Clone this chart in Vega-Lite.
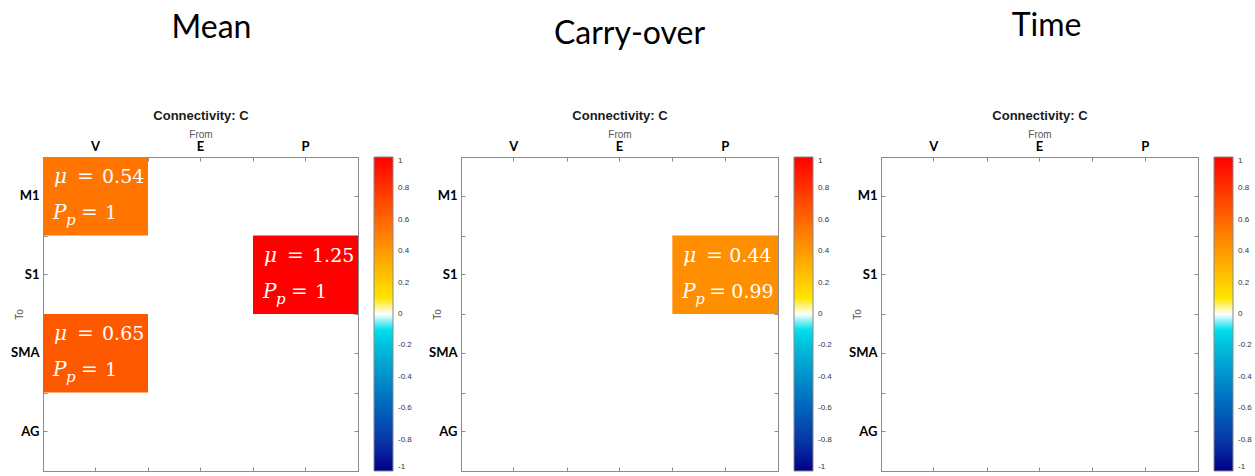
{
  "$schema": "https://vega.github.io/schema/vega-lite/v6.json",
  "background": "white",
  "padding": {"left": 10, "top": 9, "right": 2, "bottom": 2},
  "datasets": {
    "mean": [
      {"from": "V", "to": "M1", "mu": 0.54, "pp": 1},
      {"from": "P", "to": "S1", "mu": 1.25, "pp": 1},
      {"from": "V", "to": "SMA", "mu": 0.65, "pp": 1}
    ],
    "carry": [
      {"from": "P", "to": "S1", "mu": 0.44, "pp": 0.99}
    ],
    "time": []
  },
  "bounds": "flush",
  "spacing": 103,
  "resolve": {"scale": {"color": "independent"}, "legend": {"color": "independent"}},
  "config": {
    "view": {"stroke": "#8c8c8c", "strokeWidth": 1},
    "title": {"font": "Lato", "fontSize": 32, "fontWeight": "normal", "color": "#000000", "anchor": "middle"},
    "axis": {
      "domain": false, "grid": false,
      "labelFont": "Lato", "labelFontWeight": "bold", "labelFontSize": 13, "labelColor": "#000000",
      "titleFont": "Liberation Sans", "titleFontSize": 10, "titleFontWeight": "normal", "titleColor": "#555555",
      "tickColor": "#8c8c8c", "tickSize": -4, "tickWidth": 1
    },
    "text": {"font": "DejaVu Serif"}
  },
  "hconcat": [
    {
      "width": 315, "height": 314,
      "title": {"text": "Mean", "offset": 39, "dx": 11, "frame": "group", "baseline": "alphabetic"},
      "data": {"name": "mean"},
      "layer": [
        {"mark": {"type": "rect"},
         "encoding": {
           "x": {"field": "from", "type": "nominal", "scale": {"domain": ["V", "E", "P"], "paddingInner": 0, "paddingOuter": 0},
                 "axis": {"orient": "top", "title": "From", "ticks": false, "labelPadding": 4, "labelAngle": 0, "titleY": -23, "titleBaseline": "middle"}},
           "y": {"field": "to", "type": "nominal", "scale": {"domain": ["M1", "S1", "SMA", "AG"], "paddingInner": 0, "paddingOuter": 0},
                 "axis": {"orient": "left", "title": "To", "ticks": false, "labelPadding": 4, "titleX": -24, "titleBaseline": "middle"}},
           "color": {"field": "mu", "type": "quantitative",
                     "scale": {"domain": [-1, -0.8, -0.6, -0.4, -0.2, -0.0001, 0, 0.0001, 1], "range": ["#000088", "#0838a8", "#0064bc", "#0090cc", "#00c0dc", "#00ffff", "#ffffff", "#ffff00", "#ff0000"], "interpolate": "rgb", "clamp": true},
                     "legend": {"title": null, "orient": "right", "offset": 15, "direction": "vertical", "gradientLength": 314, "gradientThickness": 19, "gradientStrokeColor": "#888888", "gradientStrokeWidth": 1, "values": [1, 0.8, 0.6, 0.4, 0.2, 0, -0.2, -0.4, -0.6, -0.8, -1], "labelExpr": "datum.value", "labelFont": "Liberation Sans", "labelFontSize": 8, "labelColor": "#333333", "labelOffset": 5}}
         }},
        {"mark": {"type": "text", "text": "μ", "align": "left", "baseline": "middle", "dx": 11, "dy": -19, "font": "DejaVu Serif", "fontStyle": "italic", "fontSize": 20, "color": "white"},
         "encoding": {
           "x": {"field": "from", "type": "nominal", "bandPosition": 0, "axis": {"orient": "top", "title": "Connectivity: C", "labels": false, "titleY": -42, "titleBaseline": "middle", "titleFont": "Liberation Sans", "titleFontSize": 13, "titleFontWeight": "bold", "titleColor": "#1a1a1a"}},
           "y": {"field": "to", "type": "nominal", "axis": {"orient": "left", "title": null, "labels": false}}
         }},
        {"mark": {"type": "text", "align": "left", "baseline": "middle", "dx": 59, "dy": -19, "font": "DejaVu Serif", "fontSize": 19, "color": "white"},
         "encoding": {
           "x": {"field": "from", "type": "nominal", "bandPosition": 0, "axis": {"orient": "top", "title": null, "labels": false, "tickBand": "extent"}},
           "y": {"field": "to", "type": "nominal", "axis": {"orient": "left", "title": null, "labels": false, "tickBand": "extent"}},
           "text": {"field": "mu", "type": "quantitative", "format": ".2f"}
         }},
        {"mark": {"type": "text", "text": "P", "align": "left", "baseline": "middle", "dx": 10, "dy": 17, "font": "DejaVu Serif", "fontStyle": "italic", "fontSize": 20, "color": "white"},
         "encoding": {
           "x": {"field": "from", "type": "nominal", "bandPosition": 0, "axis": {"orient": "bottom", "title": null, "labels": false}},
           "y": {"field": "to", "type": "nominal", "axis": {"orient": "right", "title": null, "labels": false}}
         }},
        {"mark": {"type": "text", "text": "p", "align": "left", "baseline": "middle", "dx": 23, "dy": 24, "font": "DejaVu Serif", "fontStyle": "italic", "fontSize": 15, "color": "white"},
         "encoding": {
           "x": {"field": "from", "type": "nominal", "bandPosition": 0, "axis": {"orient": "bottom", "title": null, "labels": false, "tickBand": "extent"}},
           "y": {"field": "to", "type": "nominal", "axis": {"orient": "right", "title": null, "labels": false, "tickBand": "extent"}}
         }},
        {"mark": {"type": "text", "text": "=", "align": "left", "baseline": "middle", "dx": 34, "dy": -19, "font": "DejaVu Serif", "fontSize": 20, "color": "white"},
         "encoding": {
           "x": {"field": "from", "type": "nominal", "bandPosition": 0, "axis": null},
           "y": {"field": "to", "type": "nominal", "axis": null}
         }},
        {"mark": {"type": "text", "text": "=", "align": "left", "baseline": "middle", "dx": 38, "dy": 17, "font": "DejaVu Serif", "fontSize": 20, "color": "white"},
         "encoding": {
           "x": {"field": "from", "type": "nominal", "bandPosition": 0, "axis": null},
           "y": {"field": "to", "type": "nominal", "axis": null}
         }},
        {"mark": {"type": "text", "align": "left", "baseline": "middle", "dx": 62, "dy": 17, "font": "DejaVu Serif", "fontSize": 19, "color": "white"},
         "encoding": {
           "x": {"field": "from", "type": "nominal", "bandPosition": 0, "axis": null},
           "y": {"field": "to", "type": "nominal", "axis": null},
           "text": {"field": "pp", "type": "nominal"}
         }}
      ],
      "resolve": {"axis": {"x": "independent", "y": "independent"}}
    },
    {
      "width": 317, "height": 314,
      "title": {"text": "Carry-over", "offset": 33, "dx": 10, "frame": "group", "baseline": "alphabetic"},
      "data": {"name": "carry"},
      "layer": [
        {"mark": {"type": "rect"},
         "encoding": {
           "x": {"field": "from", "type": "nominal", "scale": {"domain": ["V", "E", "P"], "paddingInner": 0, "paddingOuter": 0},
                 "axis": {"orient": "top", "title": "From", "ticks": false, "labelPadding": 4, "labelAngle": 0, "titleY": -23, "titleBaseline": "middle"}},
           "y": {"field": "to", "type": "nominal", "scale": {"domain": ["M1", "S1", "SMA", "AG"], "paddingInner": 0, "paddingOuter": 0},
                 "axis": {"orient": "left", "title": "To", "ticks": false, "labelPadding": 4, "titleX": -24, "titleBaseline": "middle"}},
           "color": {"field": "mu", "type": "quantitative",
                     "scale": {"domain": [-1, -0.8, -0.6, -0.4, -0.2, -0.0001, 0, 0.0001, 1], "range": ["#000088", "#0838a8", "#0064bc", "#0090cc", "#00c0dc", "#00ffff", "#ffffff", "#ffff00", "#ff0000"], "interpolate": "rgb", "clamp": true},
                     "legend": {"title": null, "orient": "right", "offset": 15, "direction": "vertical", "gradientLength": 314, "gradientThickness": 19, "gradientStrokeColor": "#888888", "gradientStrokeWidth": 1, "values": [1, 0.8, 0.6, 0.4, 0.2, 0, -0.2, -0.4, -0.6, -0.8, -1], "labelExpr": "datum.value", "labelFont": "Liberation Sans", "labelFontSize": 8, "labelColor": "#333333", "labelOffset": 5}}
         }},
        {"mark": {"type": "text", "text": "μ", "align": "left", "baseline": "middle", "dx": 11, "dy": -19, "font": "DejaVu Serif", "fontStyle": "italic", "fontSize": 20, "color": "white"},
         "encoding": {
           "x": {"field": "from", "type": "nominal", "bandPosition": 0, "axis": {"orient": "top", "title": "Connectivity: C", "labels": false, "titleY": -42, "titleBaseline": "middle", "titleFont": "Liberation Sans", "titleFontSize": 13, "titleFontWeight": "bold", "titleColor": "#1a1a1a"}},
           "y": {"field": "to", "type": "nominal", "axis": {"orient": "left", "title": null, "labels": false}}
         }},
        {"mark": {"type": "text", "align": "left", "baseline": "middle", "dx": 57, "dy": -19, "font": "DejaVu Serif", "fontSize": 19, "color": "white"},
         "encoding": {
           "x": {"field": "from", "type": "nominal", "bandPosition": 0, "axis": {"orient": "top", "title": null, "labels": false, "tickBand": "extent"}},
           "y": {"field": "to", "type": "nominal", "axis": {"orient": "left", "title": null, "labels": false, "tickBand": "extent"}},
           "text": {"field": "mu", "type": "quantitative", "format": ".2f"}
         }},
        {"mark": {"type": "text", "text": "P", "align": "left", "baseline": "middle", "dx": 10, "dy": 17, "font": "DejaVu Serif", "fontStyle": "italic", "fontSize": 20, "color": "white"},
         "encoding": {
           "x": {"field": "from", "type": "nominal", "bandPosition": 0, "axis": {"orient": "bottom", "title": null, "labels": false}},
           "y": {"field": "to", "type": "nominal", "axis": {"orient": "right", "title": null, "labels": false}}
         }},
        {"mark": {"type": "text", "text": "p", "align": "left", "baseline": "middle", "dx": 23, "dy": 24, "font": "DejaVu Serif", "fontStyle": "italic", "fontSize": 15, "color": "white"},
         "encoding": {
           "x": {"field": "from", "type": "nominal", "bandPosition": 0, "axis": {"orient": "bottom", "title": null, "labels": false, "tickBand": "extent"}},
           "y": {"field": "to", "type": "nominal", "axis": {"orient": "right", "title": null, "labels": false, "tickBand": "extent"}}
         }},
        {"mark": {"type": "text", "text": "=", "align": "left", "baseline": "middle", "dx": 34, "dy": -19, "font": "DejaVu Serif", "fontSize": 20, "color": "white"},
         "encoding": {
           "x": {"field": "from", "type": "nominal", "bandPosition": 0, "axis": null},
           "y": {"field": "to", "type": "nominal", "axis": null}
         }},
        {"mark": {"type": "text", "text": "=", "align": "left", "baseline": "middle", "dx": 37, "dy": 17, "font": "DejaVu Serif", "fontSize": 20, "color": "white"},
         "encoding": {
           "x": {"field": "from", "type": "nominal", "bandPosition": 0, "axis": null},
           "y": {"field": "to", "type": "nominal", "axis": null}
         }},
        {"mark": {"type": "text", "align": "left", "baseline": "middle", "dx": 59, "dy": 17, "font": "DejaVu Serif", "fontSize": 19, "color": "white"},
         "encoding": {
           "x": {"field": "from", "type": "nominal", "bandPosition": 0, "axis": null},
           "y": {"field": "to", "type": "nominal", "axis": null},
           "text": {"field": "pp", "type": "nominal"}
         }}
      ],
      "resolve": {"axis": {"x": "independent", "y": "independent"}}
    },
    {
      "width": 317, "height": 314,
      "title": {"text": "Time", "offset": 41, "dx": 7, "frame": "group", "baseline": "alphabetic"},
      "data": {"name": "time"},
      "layer": [
        {"mark": {"type": "rect"},
         "encoding": {
           "x": {"field": "from", "type": "nominal", "scale": {"domain": ["V", "E", "P"], "paddingInner": 0, "paddingOuter": 0},
                 "axis": {"orient": "top", "title": "From", "ticks": false, "labelPadding": 4, "labelAngle": 0, "titleY": -23, "titleBaseline": "middle"}},
           "y": {"field": "to", "type": "nominal", "scale": {"domain": ["M1", "S1", "SMA", "AG"], "paddingInner": 0, "paddingOuter": 0},
                 "axis": {"orient": "left", "title": "To", "ticks": false, "labelPadding": 4, "titleX": -24, "titleBaseline": "middle"}},
           "color": {"field": "mu", "type": "quantitative",
                     "scale": {"domain": [-1, -0.8, -0.6, -0.4, -0.2, -0.0001, 0, 0.0001, 1], "range": ["#000088", "#0838a8", "#0064bc", "#0090cc", "#00c0dc", "#00ffff", "#ffffff", "#ffff00", "#ff0000"], "interpolate": "rgb", "clamp": true},
                     "legend": {"title": null, "orient": "right", "offset": 15, "direction": "vertical", "gradientLength": 314, "gradientThickness": 19, "gradientStrokeColor": "#888888", "gradientStrokeWidth": 1, "values": [1, 0.8, 0.6, 0.4, 0.2, 0, -0.2, -0.4, -0.6, -0.8, -1], "labelExpr": "datum.value", "labelFont": "Liberation Sans", "labelFontSize": 8, "labelColor": "#333333", "labelOffset": 5}}
         }},
        {"mark": {"type": "text", "text": "μ", "align": "left", "baseline": "middle", "dx": 11, "dy": -19, "font": "DejaVu Serif", "fontStyle": "italic", "fontSize": 20, "color": "white"},
         "encoding": {
           "x": {"field": "from", "type": "nominal", "bandPosition": 0, "axis": {"orient": "top", "title": "Connectivity: C", "labels": false, "titleY": -42, "titleBaseline": "middle", "titleFont": "Liberation Sans", "titleFontSize": 13, "titleFontWeight": "bold", "titleColor": "#1a1a1a"}},
           "y": {"field": "to", "type": "nominal", "axis": {"orient": "left", "title": null, "labels": false}}
         }},
        {"mark": {"type": "text", "align": "left", "baseline": "middle", "dx": 59, "dy": -19, "font": "DejaVu Serif", "fontSize": 19, "color": "white"},
         "encoding": {
           "x": {"field": "from", "type": "nominal", "bandPosition": 0, "axis": {"orient": "top", "title": null, "labels": false, "tickBand": "extent"}},
           "y": {"field": "to", "type": "nominal", "axis": {"orient": "left", "title": null, "labels": false, "tickBand": "extent"}},
           "text": {"field": "mu", "type": "quantitative", "format": ".2f"}
         }},
        {"mark": {"type": "text", "text": "P", "align": "left", "baseline": "middle", "dx": 10, "dy": 17, "font": "DejaVu Serif", "fontStyle": "italic", "fontSize": 20, "color": "white"},
         "encoding": {
           "x": {"field": "from", "type": "nominal", "bandPosition": 0, "axis": {"orient": "bottom", "title": null, "labels": false}},
           "y": {"field": "to", "type": "nominal", "axis": {"orient": "right", "title": null, "labels": false}}
         }},
        {"mark": {"type": "text", "text": "p", "align": "left", "baseline": "middle", "dx": 23, "dy": 24, "font": "DejaVu Serif", "fontStyle": "italic", "fontSize": 15, "color": "white"},
         "encoding": {
           "x": {"field": "from", "type": "nominal", "bandPosition": 0, "axis": {"orient": "bottom", "title": null, "labels": false, "tickBand": "extent"}},
           "y": {"field": "to", "type": "nominal", "axis": {"orient": "right", "title": null, "labels": false, "tickBand": "extent"}}
         }},
        {"mark": {"type": "text", "text": "=", "align": "left", "baseline": "middle", "dx": 34, "dy": -19, "font": "DejaVu Serif", "fontSize": 20, "color": "white"},
         "encoding": {
           "x": {"field": "from", "type": "nominal", "bandPosition": 0, "axis": null},
           "y": {"field": "to", "type": "nominal", "axis": null}
         }},
        {"mark": {"type": "text", "text": "=", "align": "left", "baseline": "middle", "dx": 38, "dy": 17, "font": "DejaVu Serif", "fontSize": 20, "color": "white"},
         "encoding": {
           "x": {"field": "from", "type": "nominal", "bandPosition": 0, "axis": null},
           "y": {"field": "to", "type": "nominal", "axis": null}
         }},
        {"mark": {"type": "text", "align": "left", "baseline": "middle", "dx": 62, "dy": 17, "font": "DejaVu Serif", "fontSize": 19, "color": "white"},
         "encoding": {
           "x": {"field": "from", "type": "nominal", "bandPosition": 0, "axis": null},
           "y": {"field": "to", "type": "nominal", "axis": null},
           "text": {"field": "pp", "type": "nominal"}
         }}
      ],
      "resolve": {"axis": {"x": "independent", "y": "independent"}}
    }
  ]
}
